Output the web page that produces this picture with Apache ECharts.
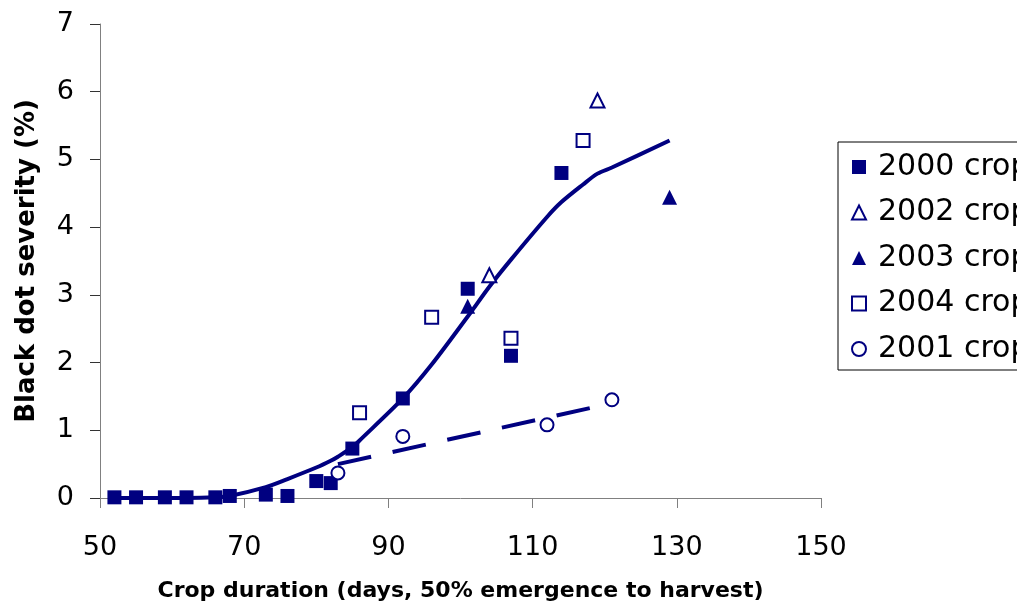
<!DOCTYPE html>
<html>
<head>
<meta charset="utf-8">
<script src="https://cdn.jsdelivr.net/npm/echarts@6/dist/echarts.min.js"></script>
<style>
html,body{margin:0;padding:0;background:#fff;}
#c{width:1017px;height:607px;}
</style>
</head>
<body>
<div id="c"></div>
<script>
// ---- data ----
var crop2000 = [[52,0.01],[55,0.01],[59,0.01],[62,0.01],[66,0.01],[68,0.03],[73,0.05],[76,0.03],[80,0.25],[82,0.22],[85,0.73],[92,1.47],[101,3.09],[107,2.10],[114,4.80]];
var crop2002 = [[104,3.29],[119,5.87]];
var crop2003 = [[101,2.83],[129,4.44]];
var crop2004 = [[86,1.26],[96,2.67],[107,2.36],[117,5.28]];
var crop2001 = [[83,0.37],[92,0.91],[112,1.08],[121,1.45]];
var fitAll = [[52,0],[55,0],[59,0],[62,0],[66,0.01],[68,0.03],[73,0.16],[76,0.28],[80,0.45],[82,0.55],[83,0.61],[85,0.75],[86,0.85],[92,1.47],[96,1.97],[101,2.68],[104,3.12],[107,3.52],[112,4.15],[114,4.37],[117,4.63],[119,4.79],[121,4.88],[129,5.28]];
var fit2001 = [[83,0.50],[121,1.40]];
var xTicks = [50,70,90,110,130,150];
var yTicks = [0,1,2,3,4,5,6,7];
var legendNames = ['2000 crop','2002 crop','2003 crop','2004 crop','2001 crop'];

var NAVY = '#000080';
var AXC = '#808080';
var chart = echarts.init(document.getElementById('c'), null, {renderer:'canvas'});

function scatter(name, data, symbol, filled, size){
  return {
    name: name, type: 'scatter', data: data, symbol: symbol, symbolSize: size, z: 5,
    itemStyle: filled ? {color: NAVY, borderColor: NAVY, borderWidth: 0, opacity: 1}
                      : {color: '#fff', borderColor: NAVY, borderWidth: 2, opacity: 1},
    emphasis: {disabled: true}
  };
}

var option = {
  animation: false,
  backgroundColor: '#fff',
  grid: {left: 100, right: 196, top: 24, bottom: 109, containLabel: false},
  xAxis: {
    type: 'value', min: xTicks[0], max: xTicks[xTicks.length-1], interval: 20,
    name: 'Crop duration (days, 50% emergence to harvest)',
    nameLocation: 'middle', nameGap: 82,
    nameTextStyle: {fontFamily: 'DejaVu Sans', fontWeight: 'bold', fontSize: 22, color: '#000'},
    axisLine: {onZero: false, lineStyle: {color: AXC, width: 1}},
    axisTick: {show: true, inside: false, length: 10, lineStyle: {color: AXC}},
    axisLabel: {fontFamily: 'DejaVu Sans', fontSize: 27, color: '#000', margin: 36},
    splitLine: {show: false}
  },
  yAxis: {
    type: 'value', min: yTicks[0], max: yTicks[yTicks.length-1], interval: 1,
    name: 'Black dot severity (%)',
    nameLocation: 'middle', nameGap: 60, nameRotate: 90,
    nameTextStyle: {fontFamily: 'DejaVu Sans', fontWeight: 'bold', fontSize: 26, color: '#000'},
    axisLine: {show: true, onZero: false, lineStyle: {color: AXC, width: 1}},
    axisTick: {show: true, inside: false, length: 10, lineStyle: {color: '#333'}},
    axisLabel: {fontFamily: 'DejaVu Sans', fontSize: 27, color: '#000', margin: 26},
    splitLine: {show: false}
  },
  legend: {
    orient: 'vertical', left: 838, top: 142,
    padding: [10, 10, 6, 13], itemGap: 15.5, itemWidth: 14, itemHeight: 14,
    borderColor: '#000', borderWidth: 1, backgroundColor: '#fff',
    textStyle: {fontFamily: 'DejaVu Sans', fontSize: 30, color: '#000', padding: [0,0,0,7]},
    selectedMode: false,
    data: [
      {name: legendNames[0], icon: 'rect', itemStyle: {color: NAVY, borderWidth: 0, opacity: 1}},
      {name: legendNames[1], icon: 'triangle', itemStyle: {color: '#fff', borderColor: NAVY, borderWidth: 2, opacity: 1}},
      {name: legendNames[2], icon: 'triangle', itemStyle: {color: NAVY, borderWidth: 0, opacity: 1}},
      {name: legendNames[3], icon: 'rect', itemStyle: {color: '#fff', borderColor: NAVY, borderWidth: 2, opacity: 1}},
      {name: legendNames[4], icon: 'circle', itemStyle: {color: '#fff', borderColor: NAVY, borderWidth: 2, opacity: 1}}
    ]
  },
  series: [
    {name: 'fit', type: 'line', data: fitAll, smooth: 0.3, symbol: 'none', z: 2,
     lineStyle: {color: NAVY, width: 4}, emphasis: {disabled: true}},
    {name: 'fit2001', type: 'line', data: fit2001, symbol: 'none', z: 2,
     lineStyle: {color: NAVY, width: 4, type: [34, 22]}, emphasis: {disabled: true}},
    scatter(legendNames[0], crop2000, 'rect', true, 14),
    scatter(legendNames[1], crop2002, 'triangle', false, 14),
    scatter(legendNames[2], crop2003, 'triangle', true, 15),
    scatter(legendNames[3], crop2004, 'rect', false, 13),
    scatter(legendNames[4], crop2001, 'circle', false, 13)
  ]
};
chart.setOption(option);
</script>
</body>
</html>
